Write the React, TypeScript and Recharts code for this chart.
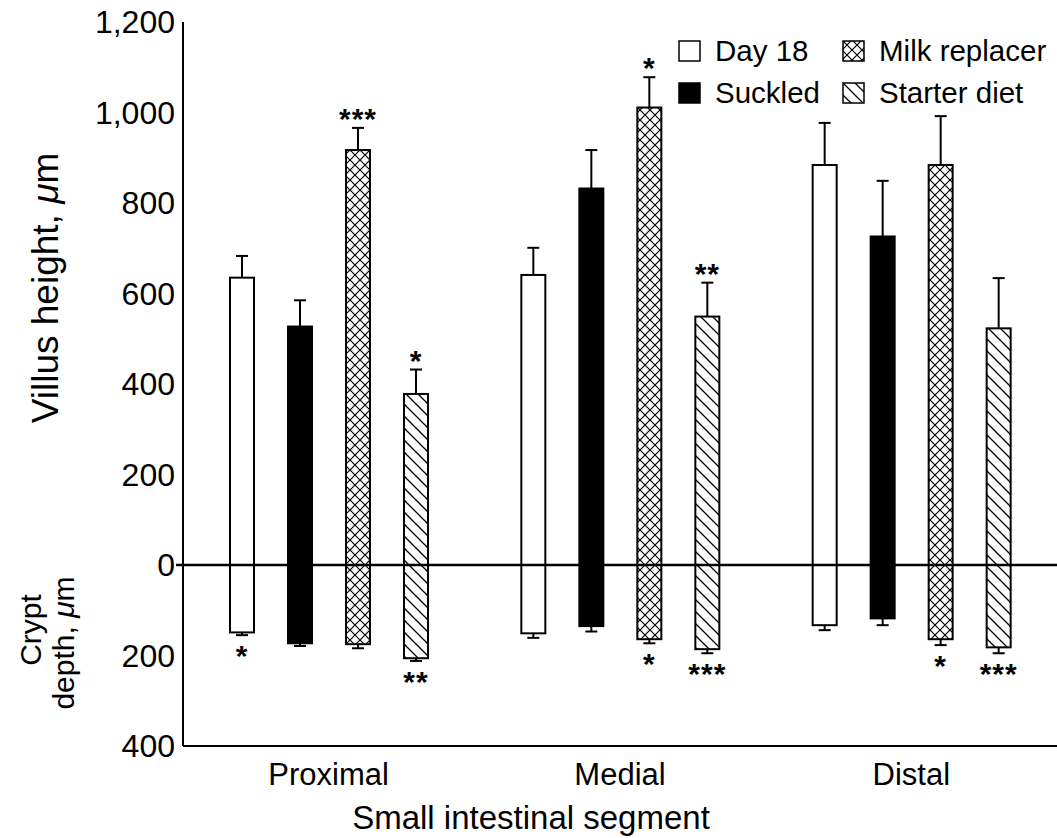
import React from 'react';
import { BarChart, Bar, XAxis, YAxis, ReferenceLine } from 'recharts';

const FONT = '"Liberation Sans", Arial, Helvetica, sans-serif';

// Categories
const segments = ['Proximal', 'Medial', 'Distal'];
const seriesNames = ['Day 18', 'Suckled', 'Milk replacer', 'Starter diet'];

// Villus height (µm), mean and SE
const villusDay18 = [635, 641, 884];
const villusSuckled = [527, 832, 726];
const villusMilk = [917, 1011, 884];
const villusStarter = [378, 549, 523];
const villusSEDay18 = [48, 60, 93];
const villusSESuckled = [58, 85, 123];
const villusSEMilk = [49, 67, 108];
const villusSEStarter = [54, 75, 111];

// Crypt depth (µm), mean and SE
const cryptDay18 = [149, 151, 133];
const cryptSuckled = [173, 135, 118];
const cryptMilk = [175, 164, 164];
const cryptStarter = [206, 186, 182];
const cryptSEDay18 = [6, 10, 11];
const cryptSESuckled = [6, 12, 15];
const cryptSEMilk = [9, 9, 13];
const cryptSEStarter = [6, 9, 13];

// Significance marks
const villusSigDay18 = ['', '', ''];
const villusSigSuckled = ['', '', ''];
const villusSigMilk = ['***', '*', ''];
const villusSigStarter = ['*', '**', ''];
const cryptSigDay18 = ['*', '', ''];
const cryptSigSuckled = ['', '', ''];
const cryptSigMilk = ['', '*', '*'];
const cryptSigStarter = ['**', '***', '***'];

// Axis ticks
const yTicks = [-400, -200, 0, 200, 400, 600, 800, 1000, 1200];
const yDomain = [-400, 1200];

const series = [
  { key: 'd18', name: seriesNames[0], fill: '#ffffff', v: villusDay18, vse: villusSEDay18, c: cryptDay18, cse: cryptSEDay18, vs: villusSigDay18, cs: cryptSigDay18 },
  { key: 'suc', name: seriesNames[1], fill: '#000000', v: villusSuckled, vse: villusSESuckled, c: cryptSuckled, cse: cryptSESuckled, vs: villusSigSuckled, cs: cryptSigSuckled },
  { key: 'milk', name: seriesNames[2], fill: 'url(#patCross)', v: villusMilk, vse: villusSEMilk, c: cryptMilk, cse: cryptSEMilk, vs: villusSigMilk, cs: cryptSigMilk },
  { key: 'start', name: seriesNames[3], fill: 'url(#patDiag)', v: villusStarter, vse: villusSEStarter, c: cryptStarter, cse: cryptSEStarter, vs: villusSigStarter, cs: cryptSigStarter },
];

const rows = segments.map((segment, i) => {
  const r: any = { segment };
  series.forEach((s) => {
    r[s.key + 'V'] = s.v[i];
    r[s.key + 'VSE'] = s.vse[i];
    r[s.key + 'VSig'] = s.vs[i];
    r[s.key + 'C'] = -s.c[i];
    r[s.key + 'CSE'] = s.cse[i];
    r[s.key + 'CSig'] = s.cs[i];
  });
  return r;
});

const makeShape = (fill: string, key: string, crypt: boolean) => (props: any) => {
  const { x, y, width, height, payload } = props;
  const val = Math.abs(payload[key]);
  const top = Math.min(y, y + height);
  const h = Math.abs(height);
  const k = val ? h / val : 0;
  const se = payload[key + 'SE'];
  const sig = payload[key + 'Sig'];
  const cx = x + width / 2;
  const capHalf = 6;
  if (!crypt) {
    const ey = top - se * k;
    return (
      <g>
        <line x1={cx} x2={cx} y1={top} y2={ey} stroke="#000" strokeWidth={2} />
        <line x1={cx - capHalf} x2={cx + capHalf} y1={ey} y2={ey} stroke="#000" strokeWidth={2} />
        <rect x={x} y={top} width={width} height={h} fill={fill} stroke="#000" strokeWidth={2} />
        {sig ? (
          <text x={cx} y={ey + 1} textAnchor="middle" fontFamily={FONT} fontWeight="bold" fontSize={30} letterSpacing={1}>
            {sig}
          </text>
        ) : null}
      </g>
    );
  }
  const bottom = top + h;
  const ey = bottom + se * k;
  return (
    <g>
      <line x1={cx} x2={cx} y1={bottom} y2={ey} stroke="#000" strokeWidth={2} />
      <line x1={cx - capHalf} x2={cx + capHalf} y1={ey} y2={ey} stroke="#000" strokeWidth={2} />
      <rect x={x} y={top} width={width} height={h} fill={fill} stroke="#000" strokeWidth={2} />
      {sig ? (
        <text x={cx} y={ey + 31} textAnchor="middle" fontFamily={FONT} fontWeight="bold" fontSize={30} letterSpacing={1}>
          {sig}
        </text>
      ) : null}
    </g>
  );
};

const Patterns = ({ suffix = '' }: { suffix?: string }) => (
  <defs>
    <pattern id={'patCross' + suffix} patternUnits="userSpaceOnUse" width={10} height={10}>
      <rect width={10} height={10} fill="#fff" />
      <path d="M0,0 L10,10 M10,0 L0,10" stroke="#000" strokeWidth={1.2} />
    </pattern>
    <pattern id={'patDiag' + suffix} patternUnits="userSpaceOnUse" width={12} height={12}>
      <rect width={12} height={12} fill="#fff" />
      <path d="M0,0 L12,12 M-2,10 L2,14 M10,-2 L14,2" stroke="#000" strokeWidth={1.3} />
    </pattern>
  </defs>
);

const fmt = (v: number) => Math.abs(v).toLocaleString('en-US');

const YTick = (props: any) => {
  const { x, y, payload } = props;
  return (
    <g>
      <text x={x} y={y} textAnchor="end" dominantBaseline="central" fontFamily={FONT} fontSize={32} fill="#000">
        {fmt(payload.value)}
      </text>
      {payload.value === 0 ? <line x1={x + 1} x2={x + 9} y1={y} y2={y} stroke="#000" strokeWidth={2.5} /> : null}
    </g>
  );
};

const XTick = (props: any) => {
  const { x, y, payload } = props;
  return (
    <text x={x} y={y + 20} textAnchor="middle" dominantBaseline="central" fontFamily={FONT} fontSize={31} fill="#000">
      {payload.value}
    </text>
  );
};

const YTitles = () => (
  <g fontFamily={FONT} fill="#000">
    <text transform="translate(45,288) rotate(-90)" textAnchor="middle" dominantBaseline="central" fontSize={37}>
      Villus height, <tspan fontStyle="italic">μ</tspan>m
    </text>
    <text transform="translate(30,630) rotate(-90)" textAnchor="middle" dominantBaseline="central" fontSize={30}>
      Crypt
    </text>
    <text transform="translate(63,643) rotate(-90)" textAnchor="middle" dominantBaseline="central" fontSize={30}>
      depth, <tspan fontStyle="italic">μ</tspan>m
    </text>
  </g>
);

const XTitle = () => (
  <text x={531} y={817} textAnchor="middle" dominantBaseline="central" fontFamily={FONT} fontSize={33} fill="#000">
    Small intestinal segment
  </text>
);

const legendPos = [
  { left: 678, top: 38 },
  { left: 678, top: 80 },
  { left: 842, top: 38 },
  { left: 842, top: 80 },
];

const LegendBox = () => (
  <div style={{ position: 'absolute', left: 0, top: 0, pointerEvents: 'none' }}>
    {series.map((s, i) => (
      <div
        key={s.key}
        style={{
          position: 'absolute',
          left: legendPos[i].left,
          top: legendPos[i].top,
          display: 'flex',
          alignItems: 'center',
          height: 26,
          whiteSpace: 'nowrap',
          fontFamily: FONT,
          fontSize: 29.5,
          color: '#000',
        }}
      >
        <svg width={24} height={22} style={{ display: 'block' }}>
          <Patterns suffix={'L' + i} />
          <rect
            x={1}
            y={1}
            width={21}
            height={20}
            fill={s.fill.startsWith('url') ? s.fill.replace(')', 'L' + i + ')') : s.fill}
            stroke="#000"
            strokeWidth={1.5}
          />
        </svg>
        <span style={{ marginLeft: 13, lineHeight: '26px' }}>{s.name}</span>
      </div>
    ))}
  </div>
);

export default function App() {
  return (
    <div style={{ position: 'absolute', left: 0, top: 0, width: 1057, height: 838, background: '#fff', overflow: 'hidden' }}>
      <BarChart
        width={1057}
        height={838}
        data={rows}
        stackOffset="sign"
        barSize={24}
        barGap={34}
        margin={{ top: 22, right: 0, bottom: 0, left: 0 }}
      >
        <Patterns />
        <XAxis
          dataKey="segment"
          height={92}
          tickLine={false}
          tick={<XTick />}
          axisLine={{ stroke: '#000', strokeWidth: 2 }}
          label={<XTitle />}
        />
        <XAxis
          xAxisId="top"
          orientation="top"
          dataKey="segment"
          height={0}
          tick={false}
          tickLine={false}
          axisLine={{ stroke: '#000', strokeWidth: 1.5 }}
        />
        <YAxis
          type="number"
          width={183}
          domain={yDomain}
          ticks={yTicks}
          allowDataOverflow
          tickLine={false}
          tickSize={0}
          tickMargin={8}
          tick={<YTick />}
          axisLine={{ stroke: '#000', strokeWidth: 2 }}
          label={<YTitles />}
        />
        {series.map((s) => (
          <Bar key={s.key + 'V'} dataKey={s.key + 'V'} stackId={s.key} isAnimationActive={false} shape={makeShape(s.fill, s.key + 'V', false)} />
        ))}
        {series.map((s) => (
          <Bar key={s.key + 'C'} dataKey={s.key + 'C'} stackId={s.key} isAnimationActive={false} shape={makeShape(s.fill, s.key + 'C', true)} />
        ))}
        <ReferenceLine y={0} stroke="#000" strokeWidth={2.5} />
      </BarChart>
      <LegendBox />
    </div>
  );
}
